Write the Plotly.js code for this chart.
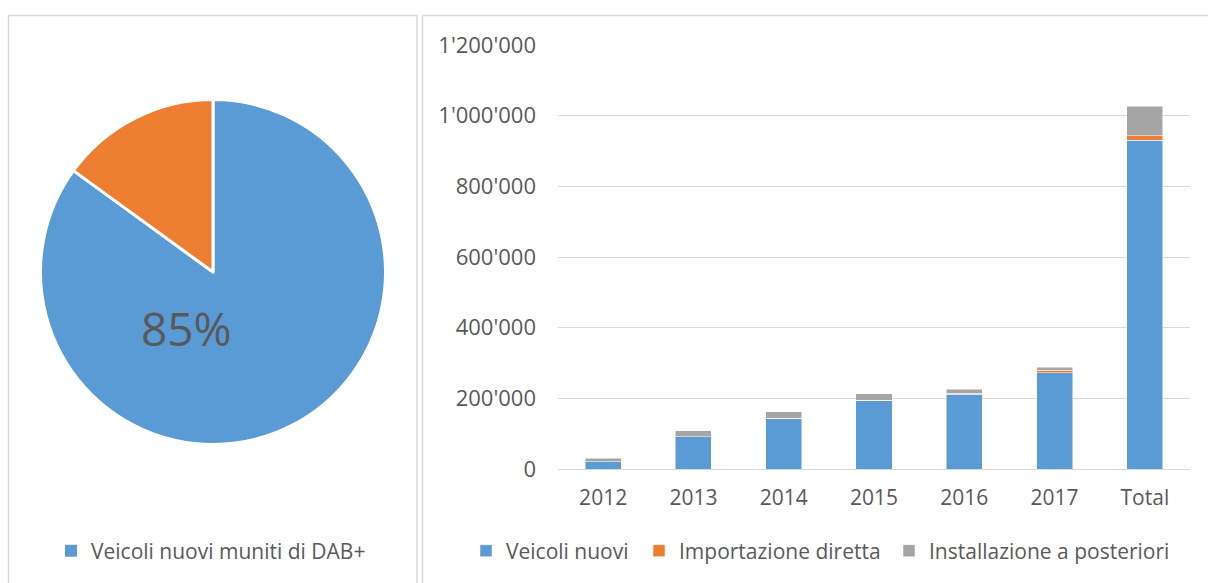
<!DOCTYPE html>
<html>
<head>
<meta charset="utf-8">
<script src="https://cdn.plot.ly/plotly-3.0.1.min.js"></script>
<style>html,body{margin:0;padding:0;background:#fff;}#chart{width:1208px;height:583px;}</style>
</head>
<body>
<div id="chart"></div>
<script>
// Pie data
const pieLabels = ["Veicoli nuovi muniti di DAB+", "Altri veicoli"];
const pieValues = [85, 15];
const pieColors = ["#5B9BD5", "#ED7D31"];

// Bar data
const years = ["2012", "2013", "2014", "2015", "2016", "2017", "Total"];
const veicoliNuovi = [20000, 91000, 142000, 193000, 212000, 272000, 930000];
const importazioneDiretta = [0, 0, 1000, 2000, 3000, 7000, 13000];
const installazionePosteriori = [10000, 17000, 19000, 18000, 11000, 9000, 84000];
const yTicks = [0, 200000, 400000, 600000, 800000, 1000000, 1200000];
const seriesNames = ["Veicoli nuovi", "Importazione diretta", "Installazione a posteriori"];
const seriesColors = ["#5B9BD5", "#ED7D31", "#A5A5A5"];

const W = 1208, H = 583;
const px = v => v / W;
const py = v => 1 - v / H;

const font = "Open Sans, Noto Sans, sans-serif";
const txt = "#595959";
const grid = "#d9d9d9";

const pct = Math.round(pieValues[0] / pieValues.reduce((a, b) => a + b, 0) * 100) + "%";

const seriesData = [veicoliNuovi, importazioneDiretta, installazionePosteriori];

const traces = [
  {
    type: "pie",
    labels: pieLabels,
    values: pieValues,
    sort: false,
    direction: "clockwise",
    rotation: 0,
    marker: {colors: pieColors, line: {color: "#ffffff", width: 3}},
    textinfo: "none",
    hoverinfo: "label+percent",
    showlegend: false,
    domain: {x: [px(40.5), px(385.5)], y: [py(444.5), py(99.5)]}
  },
  {
    type: "bar", x: [null], y: [null], name: pieLabels[0],
    marker: {color: pieColors[0]}, legend: "legend", showlegend: true,
    hoverinfo: "skip"
  }
];
seriesData.forEach((d, i) => {
  traces.push({
    type: "bar", x: years, y: d, name: seriesNames[i],
    marker: {color: seriesColors[i], line: {color: "#ffffff", width: 0.5}},
    legend: "legend" + (i + 2)
  });
});

const legendBase = (xText) => ({
  orientation: "h", x: px(xText - 41), y: py(551), xanchor: "left", yanchor: "middle",
  font: {size: 21, color: txt, family: font}, bgcolor: "rgba(0,0,0,0)"
});

const layout = {
  width: W, height: H,
  margin: {l: 0, r: 0, t: 0, b: 0},
  paper_bgcolor: "#ffffff",
  plot_bgcolor: "rgba(0,0,0,0)",
  separators: ".'",
  font: {family: font, color: txt, size: 21},
  barmode: "stack",
  bargap: 0.6,
  xaxis: {
    domain: [px(558), px(1190)],
    type: "category",
    categoryorder: "array", categoryarray: years,
    showgrid: false, showline: false, zeroline: false, ticks: "",
    tickfont: {size: 21, color: txt, family: font},
    ticklabelstandoff: 14,
    fixedrange: true
  },
  yaxis: {
    domain: [py(469), py(45)],
    range: [0, 1200000],
    tickvals: yTicks,
    tickformat: ",d",
    showgrid: true, gridcolor: grid, gridwidth: 1,
    zeroline: true, zerolinecolor: grid, zerolinewidth: 1,
    showline: false, ticks: "",
    tickfont: {size: 22, color: txt, family: font},
    ticklabelstandoff: 21,
    fixedrange: true
  },
  legend: legendBase(92),
  legend2: legendBase(507),
  legend3: legendBase(680),
  legend4: legendBase(930),
  annotations: [
    {text: pct, xref: "paper", yref: "paper", x: px(186), y: py(328),
     xanchor: "center", yanchor: "middle", showarrow: false,
     font: {size: 46, color: txt, family: font}}
  ],
  shapes: [
    {type: "rect", xref: "paper", yref: "paper", x0: px(8.5), x1: px(417), y0: py(600), y1: py(15.5),
     line: {color: grid, width: 1.5}, fillcolor: "rgba(0,0,0,0)", layer: "below"},
    {type: "rect", xref: "paper", yref: "paper", x0: px(422.5), x1: px(1230), y0: py(600), y1: py(15.5),
     line: {color: grid, width: 1.5}, fillcolor: "rgba(0,0,0,0)", layer: "below"}
  ],
  showlegend: true
};

Plotly.newPlot("chart", traces, layout, {displayModeBar: false});
</script>
</body>
</html>
